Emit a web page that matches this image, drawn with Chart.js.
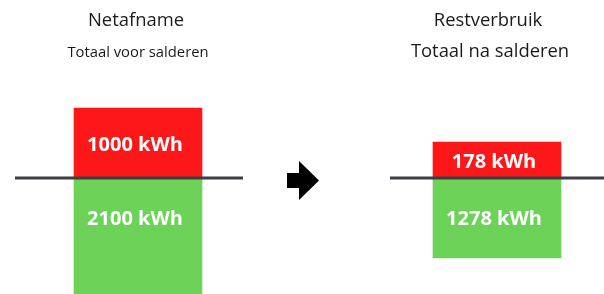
<!DOCTYPE html>
<html>
<head>
<meta charset="utf-8">
<script src="https://cdn.jsdelivr.net/npm/chart.js@4/dist/chart.umd.min.js"></script>
<style>
  html, body { margin: 0; padding: 0; background: #fff; overflow: hidden; }
  body { width: 604px; height: 294px; position: relative; font-family: "Open Sans", sans-serif; color: #1a1a1a; }
  canvas { position: absolute; top: 0; }
  .t { position: absolute; white-space: nowrap; line-height: 1; transform: translateX(-50%); }
</style>
</head>
<body>
<canvas id="left" width="276" height="294" style="left:0px"></canvas>
<canvas id="right" width="214" height="294" style="left:390px"></canvas>
<svg style="position:absolute;left:0;top:0" width="604" height="294">
  <polygon points="287,173 299,173 299,161 319,180.5 299,200 299,188 287,188" fill="#000"/>
</svg>
<div id="t0" class="t" style="left:136px;top:10px;font-size:18.4px"></div>
<div id="s0" class="t" style="left:138px;top:43.5px;font-size:14.8px"></div>
<div id="t1" class="t" style="left:488px;top:9.5px;font-size:18.4px"></div>
<div id="s1" class="t" style="left:490px;top:41px;font-size:18.4px"></div>
<script>
// ---- data ----
const panels = ['Netafname', 'Restverbruik'];
const subtitles = ['Totaal voor salderen', 'Totaal na salderen'];
const gridUse = [1000, 178];      // red, above the line (kWh)
const generation = [2100, 1278];  // green, below the line (kWh)
const unit = 'kWh';

const RED = '#fe1719';
const GREEN = '#6dd258';

panels.forEach((p, i) => {
  document.getElementById('t' + i).textContent = p;
  document.getElementById('s' + i).textContent = subtitles[i];
});

const zeroLine = {
  id: 'zeroLine',
  afterDatasetsDraw(chart, args, opts) {
    const ctx = chart.ctx;
    const y = chart.scales[opts.axis].getPixelForValue(0);
    ctx.save();
    ctx.strokeStyle = '#3b3f45';
    ctx.lineWidth = 3;
    ctx.beginPath();
    ctx.moveTo(opts.from, y);
    ctx.lineTo(opts.to, y);
    ctx.stroke();
    ctx.restore();
  }
};

const valueLabels = {
  id: 'valueLabels',
  afterDraw(chart) {
    const ctx = chart.ctx;
    ctx.save();
    ctx.fillStyle = '#ffffff';
    ctx.font = 'bold 20px "Open Sans"';
    ctx.textAlign = 'center';
    ctx.textBaseline = 'alphabetic';
    chart.data.datasets.forEach((ds, di) => {
      const meta = chart.getDatasetMeta(di);
      meta.data.forEach((el, j) => {
        const v = ds.data[j];
        if (v == null) return;
        let cy;
        if (v > 0) cy = (el.y + el.base) / 2 + 1;
        else cy = el.base + 40;
        ctx.fillText(Math.abs(v) + ' ' + unit, el.x - 3, cy + 7);
      });
    });
    ctx.restore();
  }
};

const common = {
  responsive: false,
  animation: false,
  events: [],
  layout: { padding: 0 },
  plugins: { legend: { display: false }, tooltip: { enabled: false } }
};

new Chart(document.getElementById('left'), {
  type: 'bar',
  data: {
    labels: [panels[0]],
    datasets: [
      { data: [gridUse[0]], backgroundColor: RED, barThickness: 128, grouped: false, yAxisID: 'y' },
      { data: [-generation[0]], backgroundColor: GREEN, barThickness: 128, grouped: false, yAxisID: 'y' }
    ]
  },
  options: Object.assign({}, common, {
    scales: {
      x: { display: false },
      y: { display: false, min: -1657.1, max: 2542.9 }
    },
    plugins: Object.assign({}, common.plugins, { zeroLine: { axis: 'y', from: 15, to: 243 } })
  }),
  plugins: [zeroLine, valueLabels]
});

new Chart(document.getElementById('right'), {
  type: 'bar',
  data: {
    labels: [panels[1]],
    datasets: [
      { data: [gridUse[1]], backgroundColor: RED, barThickness: 128, grouped: false, yAxisID: 'yPos' },
      { data: [-generation[1]], backgroundColor: GREEN, barThickness: 128, grouped: false, yAxisID: 'yNeg' }
    ]
  },
  options: Object.assign({}, common, {
    scales: {
      x: { display: false },
      yPos: { display: false, min: -573.6, max: 880.1 },
      yNeg: { display: false, min: -1853.1, max: 2843.6 }
    },
    plugins: Object.assign({}, common.plugins, { zeroLine: { axis: 'yPos', from: -1, to: 214 } })
  }),
  plugins: [zeroLine, valueLabels]
});
</script>
</body>
</html>
